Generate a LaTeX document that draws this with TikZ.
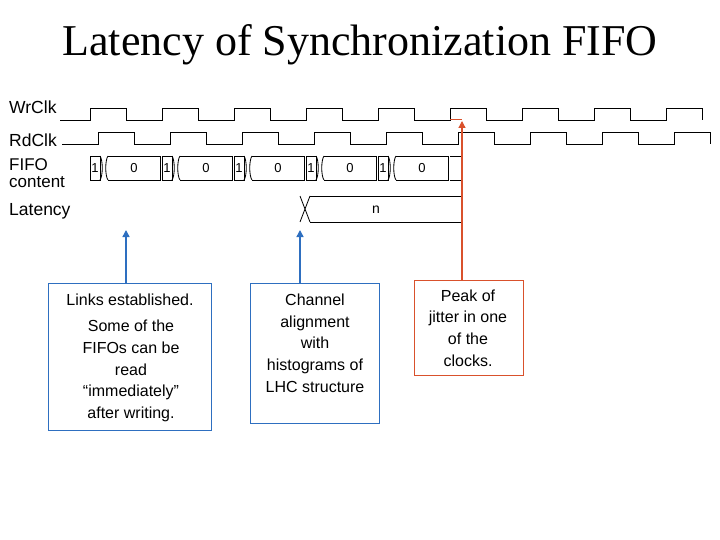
\documentclass[tikz,border=0pt]{standalone}
\usepackage{fontspec}
\setmainfont{Liberation Serif}
\newfontfamily\sansf{Liberation Sans}
\usetikzlibrary{arrows.meta}
\definecolor{myblue}{HTML}{2E6FC0}
\definecolor{myred}{HTML}{D9512C}
\begin{document}
\begin{tikzpicture}[x=1pt,y=-1pt,
  lbl/.style={font=\sansf\fontsize{17.5}{18}\selectfont,anchor=west,inner sep=0},
  cell/.style={font=\sansf\fontsize{13}{14}\selectfont,inner sep=0},
  wave/.style={line width=0.8pt},
  box/.style={draw,line width=0.8pt,inner sep=0},
  btxt/.style={font=\sansf\fontsize{16}{21.7}\selectfont,align=center,inner sep=0},
  arr/.style={line width=1.4pt,-{Triangle[length=7pt,width=7pt]}}]
\useasboundingbox (0,0) rectangle (720,540);
\node[font=\fontsize{44}{46}\selectfont] (title) at (360,45) {Latency of Synchronization FIFO};
\node[lbl] (wr) at (9,107) {WrClk};
\node[lbl] (rd) at (9,140) {RdClk};
\node[lbl,align=left,font=\sansf\fontsize{17}{17.5}\selectfont] (ff) at (9,173) {FIFO\\content};
\node[lbl] (lat) at (9,211) {Latency};
% clocks
\draw[wave] (60,120) \foreach \k in {0,...,8}{ -- ({90+72*\k},120) -- ({90+72*\k},108) -- ({126+72*\k},108) -- ({126+72*\k},120)};
\draw[wave] (62,144) \foreach \k in {0,...,8}{ -- ({98+72*\k},144) -- ({98+72*\k},132) -- ({134+72*\k},132) -- ({134+72*\k},144)};
% FIFO content
\foreach \k in {0,...,4}{
  \pgfmathsetmacro{\a}{90+72*\k}
  \draw[wave] (\a,156) rectangle ({\a+10},180);
  \node[cell] at ({\a+5},168) {1};
  \draw[wave] ({\a+10},156) .. controls ({\a+13},160) and ({\a+13},176) .. ({\a+10},180);
  \draw[wave] ({\a+18},156) .. controls ({\a+15},160) and ({\a+15},176) .. ({\a+18},180);
  \draw[wave] ({\a+18},156) -- ({\a+70},156) -- ({\a+70},180) -- ({\a+18},180);
  \node[cell] at ({\a+44},168) {0};
}
\draw[wave] (450,156) -- (462,156) (450,180) -- (462,180);
% latency
\draw[wave] (300,196) -- (310,222) (300,222) -- (310,196);
\draw[wave] (310,196) -- (462,196) (310,222) -- (462,222);
\node[cell,font=\sansf\fontsize{14}{15}\selectfont] (n) at (376,210) {n};
% boxes
\node[box,draw=myblue,minimum width=163,minimum height=147] (b1) at (129.5,356.5) {};
\node[btxt] (t1a) at (130,300) {Links established.};
\node[btxt] (t1b) at (131,371) {Some of the\\FIFOs can be\\read\\“immediately”\\after writing.};
\node[box,draw=myblue,minimum width=129,minimum height=140] (b2) at (314.5,353) {};
\node[btxt] (t2) at (315,343) {Channel\\alignment\\with\\histograms of\\LHC structure};
\node[box,draw=myred,minimum width=109,minimum height=95] (b3) at (468.5,327.5) {};
\node[btxt] (t3) at (468,328) {Peak of\\jitter in one\\of the\\clocks.};
% arrows
\coordinate (a1) at (126,230);
\coordinate (a2) at (300,230);
\coordinate (a3) at (462,121);
\draw[arr,myblue] (b1.north -| a1) -- (a1);
\draw[arr,myblue] (b2.north -| a2) -- (a2);
\draw[arr,myred,line width=1.2pt] (b3.north -| a3) -- (a3);
\draw[myred,line width=1pt] (450,120) -- (462,120);
\end{tikzpicture}
\end{document}
